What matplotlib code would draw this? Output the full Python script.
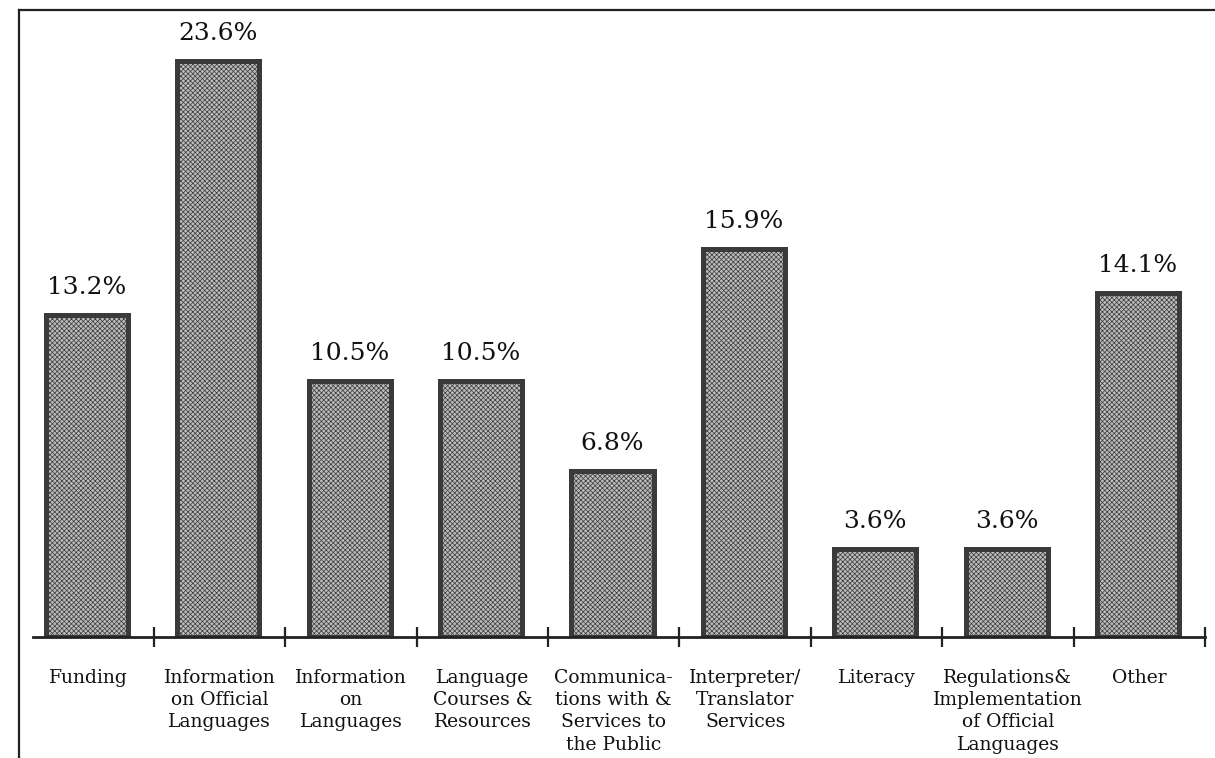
import matplotlib
matplotlib.use("Agg")
import matplotlib.pyplot as plt
from matplotlib.lines import Line2D

categories = [
    "Funding",
    "Information\non Official\nLanguages",
    "Information\non\nLanguages",
    "Language\nCourses &\nResources",
    "Communica-\ntions with &\nServices to\nthe Public",
    "Interpreter/\nTranslator\nServices",
    "Literacy",
    "Regulations&\nImplementation\nof Official\nLanguages",
    "Other",
]
values = [13.2, 23.6, 10.5, 10.5, 6.8, 15.9, 3.6, 3.6, 14.1]
value_labels = ["13.2%", "23.6%", "10.5%", "10.5%", "6.8%", "15.9%", "3.6%", "3.6%", "14.1%"]

plt.rcParams['font.family'] = ['DejaVu Serif']
plt.rcParams['hatch.linewidth'] = 0.5

W, H = 1215, 758
fig = plt.figure(figsize=(W / 100, H / 100), dpi=100)

base_px = 637
top_px = 10
left_px = 22.6
right_px = 1205
ax = fig.add_axes([left_px / W, (H - base_px) / H, (right_px - left_px) / W, (base_px - top_px) / H])

px_per_unit = 24.4
ax.set_ylim(0, (base_px - top_px) / px_per_unit)
ax.set_xlim(-0.5, 8.5)

xs = [i - 0.01 for i in range(len(values))]
bars = ax.bar(xs, values, width=0.625, color='#bcbcbc', edgecolor='#3a3a3a',
              linewidth=3.6, hatch='xxxxxxx', zorder=2)

for x, v, lab in zip(xs, values, value_labels):
    ax.annotate(lab, (x, v), xytext=(0, 11.5), textcoords='offset points',
                ha='center', va='bottom', fontsize=18, color='#111111')

for s in ['top', 'right', 'left']:
    ax.spines[s].set_visible(False)
ax.spines['bottom'].set_bounds(-0.42, 8.5)
ax.spines['bottom'].set_linewidth(2.0)
ax.spines['bottom'].set_color('#222222')
ax.spines['bottom'].set_zorder(3)

ax.set_yticks([])
ax.set_xticks([i + 0.5 for i in range(len(values))])
ax.set_xticklabels([])
ax.tick_params(axis='x', which='major', direction='inout', length=14, width=1.6, color='#222222')
ax.set_xticks(range(len(values)), categories, minor=True)
ax.tick_params(axis='x', which='minor', length=0, pad=23, labelsize=13.5, labelcolor='#111111')
for t in ax.get_xticklabels(minor=True):
    t.set_linespacing(1.3)
    t.set_horizontalalignment('center')

# outer frame (left and top lines)
fig.add_artist(Line2D([19 / W, 19 / W], [0, 1 - 10 / H], transform=fig.transFigure,
                      color='#222222', linewidth=1.6))
fig.add_artist(Line2D([19 / W, 1], [1 - 10 / H, 1 - 10 / H], transform=fig.transFigure,
                      color='#222222', linewidth=1.6))

fig.savefig("out.png", dpi=100)
